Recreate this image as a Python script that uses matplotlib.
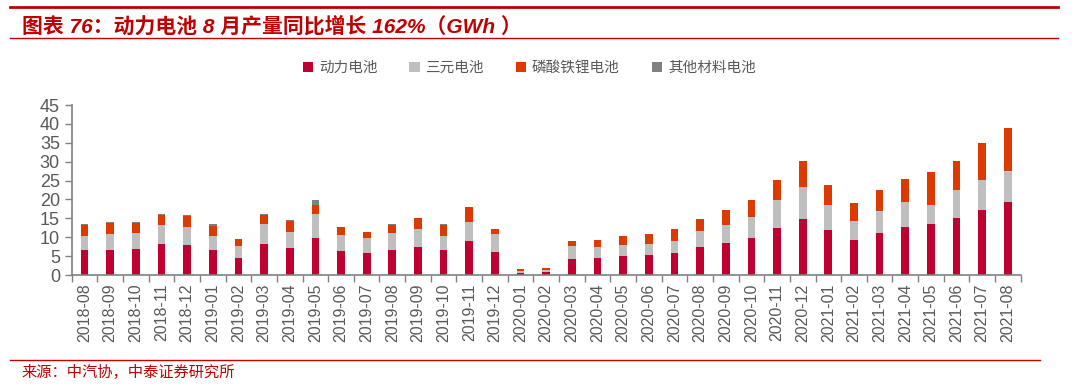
import numpy as np
import matplotlib
matplotlib.use('Agg')
from matplotlib import pyplot as plt
from matplotlib.lines import Line2D
from matplotlib.patches import Patch

plt.rcParams['font.family'] = ['Liberation Sans', 'Noto Sans CJK SC', 'DejaVu Sans']

months = ['2018-08', '2018-09', '2018-10', '2018-11', '2018-12',
          '2019-01', '2019-02', '2019-03', '2019-04', '2019-05', '2019-06',
          '2019-07', '2019-08', '2019-09', '2019-10', '2019-11', '2019-12',
          '2020-01', '2020-02', '2020-03', '2020-04', '2020-05', '2020-06',
          '2020-07', '2020-08', '2020-09', '2020-10', '2020-11', '2020-12',
          '2021-01', '2021-02', '2021-03', '2021-04', '2021-05', '2021-06',
          '2021-07', '2021-08']

# GWh
power = [6.5, 6.7, 6.9, 8.1, 7.9, 6.7, 4.6, 8.1, 7.2, 9.9, 6.4, 5.7, 6.5,
         7.4, 6.5, 9.0, 6.1, 0.6, 0.9, 4.3, 4.6, 5.0, 5.3, 5.9, 7.4, 8.5,
         9.9, 12.5, 14.9, 11.8, 9.4, 11.2, 12.8, 13.6, 15.2, 17.3, 19.2]
ternary = [3.7, 4.2, 4.2, 5.2, 4.8, 3.5, 3.0, 5.4, 4.1, 6.2, 4.3, 4.2, 4.6,
           4.8, 3.9, 5.1, 4.8, 0.5, 0.4, 3.4, 2.8, 3.0, 3.0, 3.2, 4.3, 4.8,
           5.5, 7.4, 8.5, 6.7, 5.0, 5.8, 6.6, 4.9, 7.4, 7.9, 8.4]
lfp = [3.0, 3.0, 2.7, 2.6, 2.9, 2.9, 1.9, 2.5, 3.0, 2.4, 2.0, 1.5, 2.2,
       2.9, 2.9, 3.8, 1.3, 0.4, 0.5, 1.3, 1.9, 2.3, 2.5, 3.0, 3.0, 3.8,
       4.4, 5.2, 6.8, 5.3, 4.6, 5.4, 6.1, 8.9, 7.6, 9.7, 11.2]
other = [0.2, 0.1, 0.2, 0.3, 0.2, 0.4, 0.1, 0.1, 0.2, 1.3, 0.1, 0.0, 0.2,
         0.0, 0.1, 0.0, 0.0, 0.0, 0.0, 0.1, 0.0, 0.0, 0.1, 0.0, 0.2, 0.0,
         0.0, 0.0, 0.0, 0.0, 0.0, 0.2, 0.0, 0.0, 0.0, 0.1, 0.2]

series_names = ['动力电池', '三元电池', '磷酸铁锂电池', '其他材料电池']
colors = ['#C00030', '#BFBFBF', '#DD3A00', '#808080']
red = '#C00000'
axis_gray = '#808080'
text_gray = '#595959'

fig = plt.figure(figsize=(10.8, 3.89), dpi=100)
ax = fig.add_axes([0.0664, 0.293, 0.8787, 0.437])

x = np.arange(len(months))
w = 0.3
bottom = np.zeros(len(months))
for vals, c in zip([power, ternary, lfp, other], colors):
    vals = np.array(vals)
    ax.bar(x, vals, w, bottom=bottom, color=c, linewidth=0)
    bottom += vals

ax.set_xlim(-0.5, len(months) - 0.5)
ax.set_ylim(0, 45)
ax.set_yticks(np.arange(0, 46, 5))
ax.tick_params(axis='y', labelsize=13, colors=text_gray, length=5,
               width=1, direction='out', color=axis_gray)
ax.set_xticks(x)
ax.set_xticklabels(months, rotation=90, fontsize=11.5, color=text_gray)
ax.tick_params(axis='x', length=0, pad=6)
ax.set_xticks(np.arange(-0.5, len(months), 1), minor=True)
ax.tick_params(axis='x', which='minor', length=5, width=1, color=axis_gray)

for s in ['top', 'right']:
    ax.spines[s].set_visible(False)
for s in ['left', 'bottom']:
    ax.spines[s].set_color(axis_gray)
    ax.spines[s].set_linewidth(1.2)

handles = [Patch(facecolor=c, edgecolor='none') for c in colors]
fig.legend(handles, series_names, loc='center', bbox_to_anchor=(0.49, 0.825),
           ncol=4, frameon=False, fontsize=10.5, handlelength=0.7,
           handleheight=0.7, handletextpad=0.4, columnspacing=2.2,
           labelcolor=text_gray)

# title block
fig.add_artist(Line2D([0.009, 0.98], [0.982, 0.982], color=red, lw=2))
fig.add_artist(Line2D([0.009, 0.98], [0.902, 0.902], color=red, lw=1))
fig.text(0.02, 0.932, '图表 76：动力电池 8 月产量同比增长 162%（GWh ）',
         fontsize=15, fontweight='bold', fontstyle='italic', color=red,
         va='center', ha='left')

# source
fig.add_artist(Line2D([0.009, 0.963], [0.075, 0.075], color=red, lw=1))
fig.text(0.02, 0.043, '来源：中汽协，中泰证券研究所', fontsize=11,
         color=red, va='center', ha='left')

fig.savefig('out.png', dpi=100)
